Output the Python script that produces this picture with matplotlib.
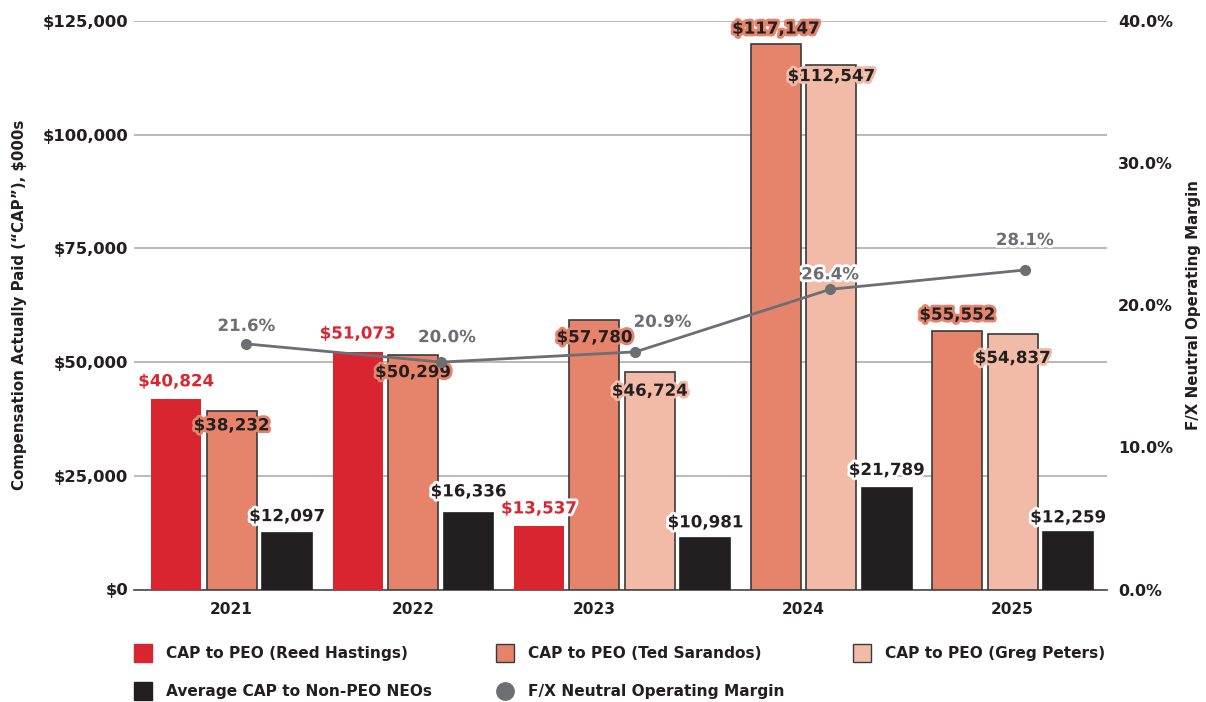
import numpy as np
import matplotlib
matplotlib.use("Agg")
import matplotlib.pyplot as plt
import matplotlib.patheffects as pe
from matplotlib.lines import Line2D

plt.rcParams["font.family"] = ["DejaVu Sans"]

# ---------------------------------------------------------------
# Data
# ---------------------------------------------------------------
YEARS = ["2021", "2022", "2023", "2024", "2025"]

# CAP values in $000s (None = no bar that year)
REED = [40824, 51073, 13537, None, None]
TED = [38232, 50299, 57780, 117147, 55552]
GREG = [None, None, 46724, 112547, 54837]
NEO = [12097, 16336, 10981, 21789, 12259]

MARGIN = [21.6, 20.0, 20.9, 26.4, 28.1]

LEFT_TICK_LABELS = ["$0", "$25,000", "$50,000", "$75,000", "$100,000", "$125,000"]
RIGHT_TICK_LABELS = ["0.0%", "10.0%", "20.0%", "30.0%", "40.0%"]

# Colors
RED = "#D9252F"
SALMON = "#E5836B"
PEACH = "#F2BBA7"
BLACK = "#231F20"
GRAY = "#6D6E71"
GRID = "#B3B3B3"
EDGE = "#3A3A3A"

SERIES = [
    ("CAP to PEO (Reed Hastings)", REED, RED, "none", "white"),
    ("CAP to PEO (Ted Sarandos)", TED, SALMON, EDGE, SALMON),
    ("CAP to PEO (Greg Peters)", GREG, PEACH, EDGE, PEACH),
    ("Average CAP to Non-PEO NEOs", NEO, BLACK, BLACK, "white"),
]

# vertical label offsets from the bar top, in pixels (negative = above)
LABEL_DY = {
    "CAP to PEO (Reed Hastings)": [-18, -18, -18, 0, 0],
    "CAP to PEO (Ted Sarandos)": [14, 17, 17, -15, -16],
    "CAP to PEO (Greg Peters)": [0, 0, 19, 11, 24],
    "Average CAP to Non-PEO NEOs": [-17, -22, -16, -18, -15],
}
MARGIN_DX = [0, 6, 27, 0, 0]
MARGIN_DY = [18, 25, 30, 15, 30]
TICK_SHIFT = [0, 0, -0.5, -0.5, 0]

BAR_W = 0.9
GROUP_GAP = 0.27

fig = plt.figure(figsize=(12.06, 7.02), dpi=100)
ax = fig.add_axes([134 / 1206, 1 - 589.5 / 702, (1107 - 134) / 1206, (589.5 - 21) / 702])
ax2 = ax.twinx()

# ---------------------------------------------------------------
# Bars: packed per year, only series with a value get a slot
# ---------------------------------------------------------------
pos = 0.0
group_centers = []
for yi in range(len(YEARS)):
    xs = []
    for name, vals, color, edge, stroke in SERIES:
        v = vals[yi]
        if v is None:
            continue
        ax.bar(pos, v, width=BAR_W, color=color, edgecolor=edge,
               linewidth=1.2, zorder=3)
        ax.annotate(f"${v:,}", (pos, v), xytext=(0, -LABEL_DY[name][yi]),
                    textcoords="offset pixels", ha="center", va="center",
                    fontsize=12, fontweight="bold",
                    color=RED if color == RED else BLACK, zorder=6,
                    path_effects=[pe.withStroke(linewidth=4, foreground=stroke)])
        xs.append(pos)
        pos += 1
    group_centers.append((xs[0] + xs[-1]) / 2)
    pos += GROUP_GAP

last = pos - 1 - GROUP_GAP
xmin, xmax = -0.76, last + 0.70
ax.set_xlim(xmin, xmax)

# The reference's axes are scaled so that the top gridline reads $125,000 / 40%
ax.set_ylim(0, 122000)
ax.set_yticks(np.linspace(0, 122000, 6))
ax.set_yticklabels(LEFT_TICK_LABELS)
ax2.set_ylim(0, 50)
ax2.set_yticks(np.linspace(0, 50, 5))
ax2.set_yticklabels(RIGHT_TICK_LABELS)

ax.set_xticks([c + s for c, s in zip(group_centers, TICK_SHIFT)])
ax.set_xticklabels(YEARS)

ax.grid(True, axis="y", color=GRID, linewidth=1.3, zorder=0)
ax.set_axisbelow(True)

# ---------------------------------------------------------------
# Operating margin line (evenly spaced category slots)
# ---------------------------------------------------------------
slot = (xmax - xmin) / len(YEARS)
line_x = [xmin + (i + 0.5) * slot + GROUP_GAP for i in range(len(YEARS))]
ax2.plot(line_x, MARGIN, color=GRAY, linewidth=2, marker="o", markersize=7,
         zorder=5)
for i, (x, m) in enumerate(zip(line_x, MARGIN)):
    ax2.annotate(f"{m:.1f}%", (x, m), xytext=(MARGIN_DX[i], MARGIN_DY[i]),
                 textcoords="offset pixels", ha="center", va="center",
                 fontsize=12, fontweight="bold", color=GRAY, zorder=7,
                 path_effects=[pe.withStroke(linewidth=4, foreground="white")])

ax2.patch.set_visible(False)

# ---------------------------------------------------------------
# Styling
# ---------------------------------------------------------------
for a in (ax, ax2):
    for side in ("top", "left", "right"):
        a.spines[side].set_visible(False)
ax2.spines["bottom"].set_visible(False)
ax.spines["bottom"].set_color("#555555")
ax.spines["bottom"].set_linewidth(1.3)

ax.tick_params(axis="y", length=0, pad=4, labelsize=11.8, labelcolor=BLACK)
ax2.tick_params(axis="y", length=0, pad=8, labelsize=11.4, labelcolor=BLACK)
ax.tick_params(axis="x", length=0, pad=9, labelsize=11.1, labelcolor=BLACK)
for lbl in ax.get_yticklabels() + ax2.get_yticklabels() + ax.get_xticklabels():
    lbl.set_fontweight("bold")

ax.set_ylabel("Compensation Actually Paid (\u201cCAP\u201d), $000s",
              fontsize=10.8, fontweight="bold", color=BLACK, labelpad=11)
ax2.set_ylabel("F/X Neutral Operating Margin", fontsize=10.8,
               fontweight="bold", color=BLACK, labelpad=9)

# ---------------------------------------------------------------
# Legend: three columns placed under the plot
# ---------------------------------------------------------------
def handle(color, marker="s", edge=None):
    return Line2D([], [], linestyle="none", marker=marker, markersize=12.5,
                  markerfacecolor=color,
                  markeredgecolor=edge if edge else color, markeredgewidth=1)

columns = [
    (135, [(handle(RED), SERIES[0][0]), (handle(BLACK), SERIES[3][0])]),
    (497, [(handle(SALMON, edge=EDGE), SERIES[1][0]),
           (handle(GRAY, marker="o"), "F/X Neutral Operating Margin")]),
    (854, [(handle(PEACH, edge=EDGE), SERIES[2][0])]),
]
for x0, items in columns:
    fig.legend([h for h, _ in items], [t for _, t in items],
               loc="upper left", bbox_to_anchor=(x0 / 1206, 1 - 646 / 702),
               frameon=False, borderpad=0, borderaxespad=0,
               handlelength=1.0, handletextpad=1.0, labelspacing=1.5,
               prop={"size": 11.1, "weight": "bold"}, labelcolor=BLACK)

fig.savefig("out.png", dpi=100)
